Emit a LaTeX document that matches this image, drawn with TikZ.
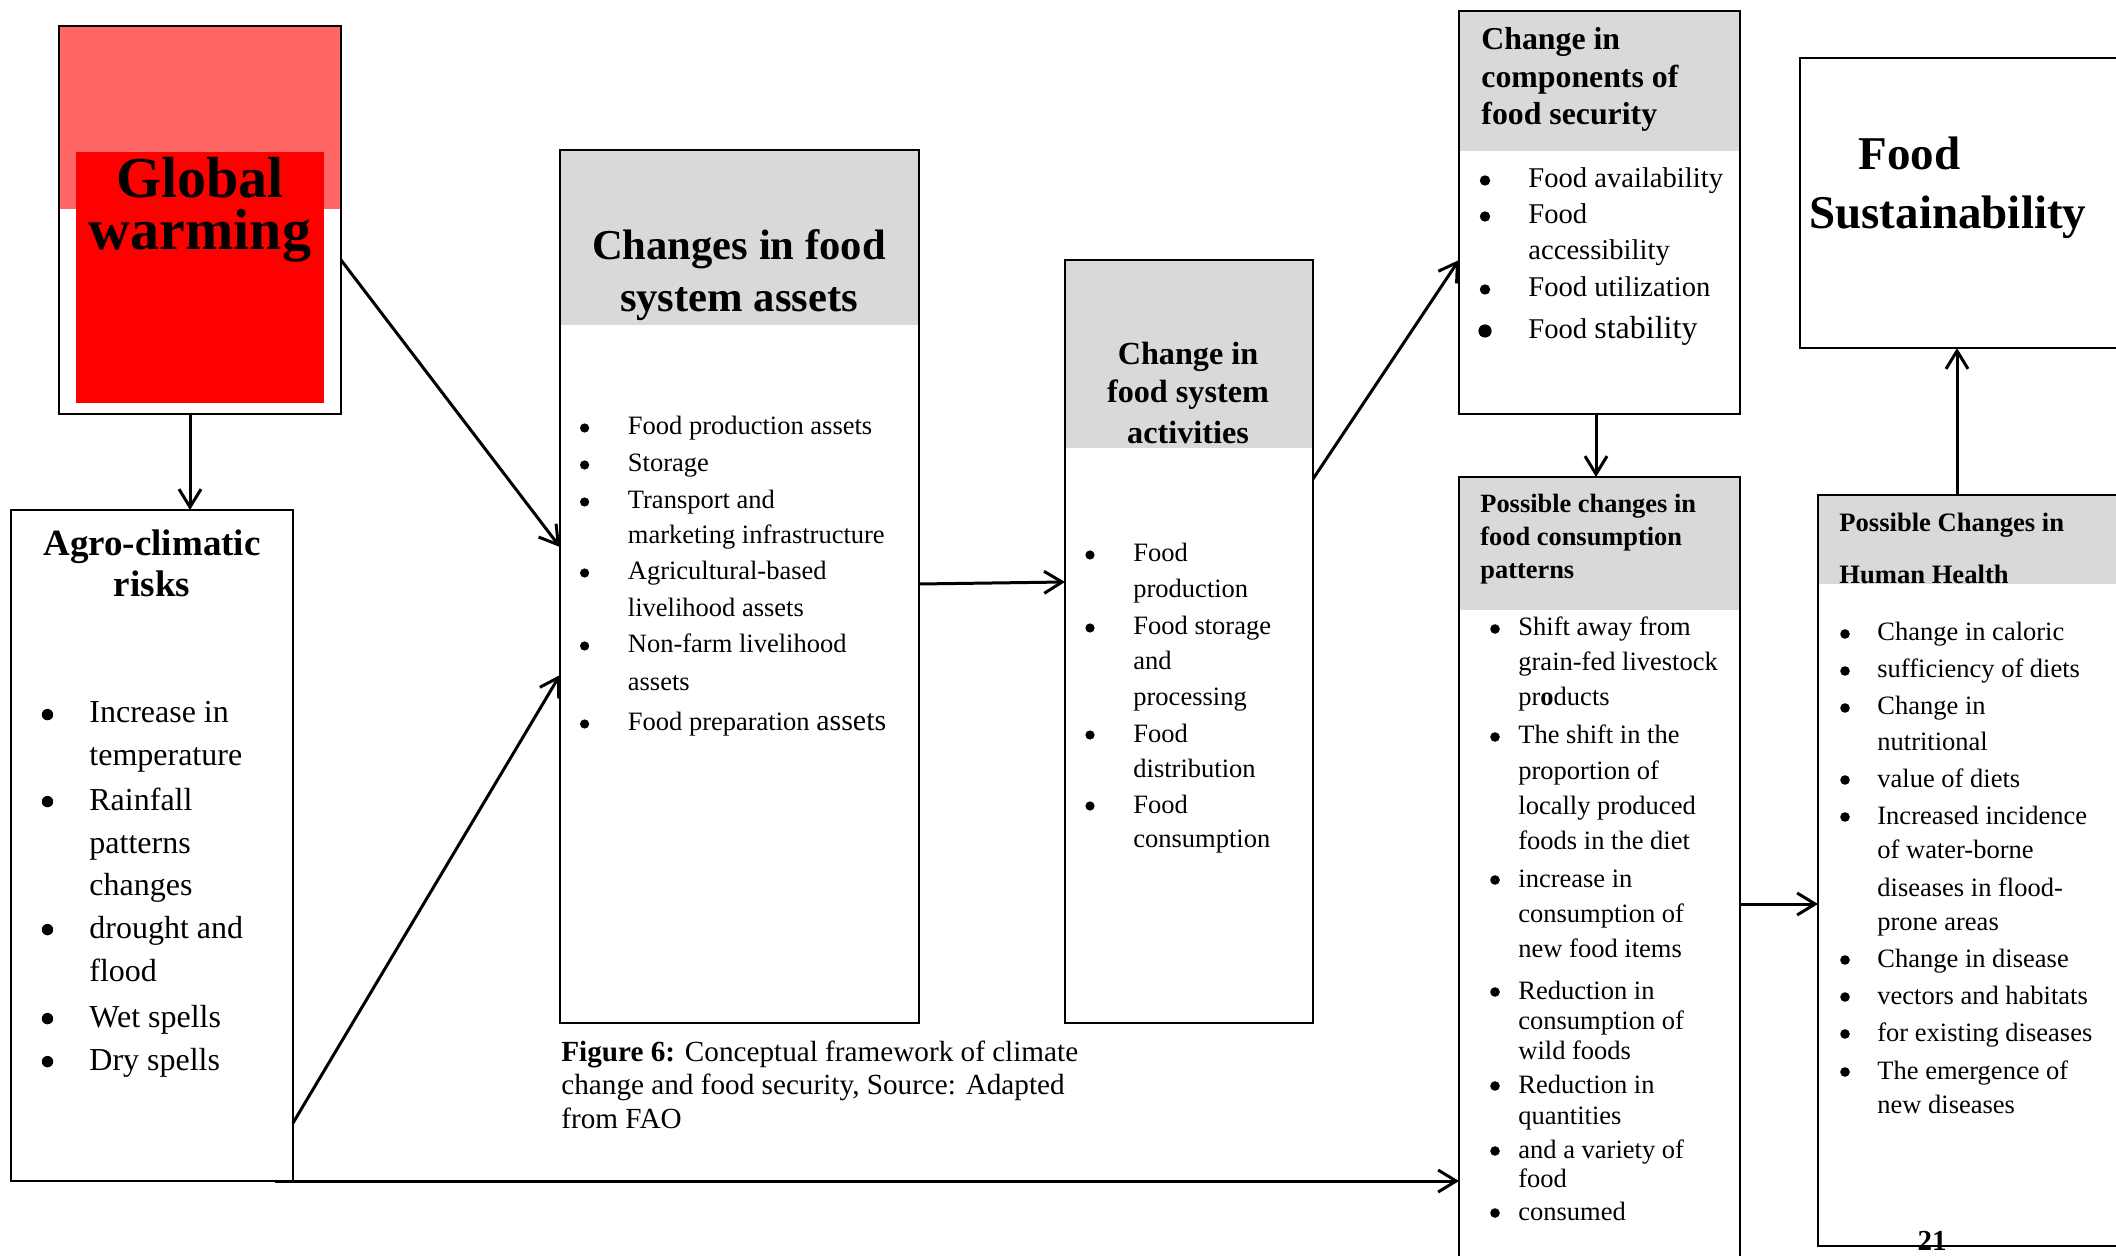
\documentclass[tikz,border=0pt]{standalone}
\usepackage{fontspec}
\setmainfont{Liberation Serif}
\usetikzlibrary{arrows.meta,calc}
\definecolor{lightred}{HTML}{FF6666}
\definecolor{hdrgray}{HTML}{D9D9D9}
\newcommand\myfs[1]{\fontsize{#1}{#1}\selectfont}
\newcommand\mkbox[5]{\node[box, minimum width={(#4-#2)*0.5pt}, minimum height={(#5-#3)*0.5pt}] (#1) at (#2,#3) {};}
\tikzset{
 box/.style={draw=black, line width=1.4pt, inner sep=0pt, outer sep=0pt, anchor=north west},
 arr/.style={line width=1.5pt, -{Straight Barb[length=9pt,width=11pt]}},
 txt/.style={inner sep=0pt, anchor=base west},
 ctxt/.style={inner sep=0pt, anchor=base},
}
\begin{document}
\begin{tikzpicture}[x=0.5pt,y=-0.5pt]
\useasboundingbox (0,0) rectangle (2116,1256);
\clip (0,0) rectangle (2116,1256);
\fill[white] (0,0) rectangle (2116,1256);
% fills
\fill[lightred] (59,26) rectangle (341,209);
\fill[red] (76,152) rectangle (324,403);
\fill[hdrgray] (560,150) rectangle (919,325);
\fill[hdrgray] (1065,260) rectangle (1313,448);
\fill[hdrgray] (1459,11) rectangle (1740,151);
\fill[hdrgray] (1459,477) rectangle (1740,610);
\fill[hdrgray] (1818,495) rectangle (2140,584);
% boxes
\mkbox{gw}{59}{26}{341}{414}
\mkbox{agro}{11}{510}{293}{1181}
\mkbox{assets}{560}{150}{919}{1023}
\mkbox{act}{1065}{260}{1313}{1023}
\mkbox{comp}{1459}{11}{1740}{414}
\mkbox{cons}{1459}{477}{1740}{1290}
\mkbox{health}{1818}{495}{2140}{1246}
\mkbox{sust}{1800}{58}{2140}{348}
% connectors
\draw[arr] ([xshift=-5pt]gw.south) -- ([xshift=-5pt]gw.south |- agro.north);
\draw[arr] ([yshift=-20pt]gw.east) -- ([yshift=19.75pt]assets.west);
\draw[arr] ([yshift=-138.75pt]agro.east) -- ([yshift=-44.25pt]assets.west);
\draw[arr] ([yshift=1.25pt]assets.east) -- ([yshift=29.75pt]act.west);
\draw[arr] ([yshift=81.25pt]act.east) -- ([yshift=-23.75pt]comp.west);
\draw[arr] ([xshift=-1.75pt]comp.south) -- ([xshift=-1.75pt]comp.south |- cons.north);
\coordinate (hin) at ([yshift=-16.75pt]health.west);
\draw[arr] (cons.east |- hin) -- (hin);
\coordinate (hup) at ([xshift=-11pt]health.north);
\draw[arr] (hup) -- (hup |- sust.south);
\coordinate (bstart) at ([xshift=-9pt]agro.south east);
\draw[arr] (bstart) -- (bstart -| cons.west);
% headings
\node[ctxt, font={\myfs{29}\bfseries}] (gw-1) at (200,198) {Global};
\node[ctxt, font={\myfs{29}\bfseries}] (gw-2) at (200,250) {warming};
\node[ctxt, font={\myfs{18.5}\bfseries}] (agro-h1) at (152,556) {Agro-climatic};
\node[ctxt, font={\myfs{18.5}\bfseries}] (agro-h2) at (152,597) {risks};
\node[ctxt, font={\myfs{21.3}\bfseries}] (assets-h1) at (739,260) {Changes in food};
\node[ctxt, font={\myfs{21.3}\bfseries}] (assets-h2) at (739,312) {system assets};
\node[ctxt, font={\myfs{16.1}\bfseries}] (act-h1) at (1188,365) {Change in};
\node[ctxt, font={\myfs{16.1}\bfseries}] (act-h2) at (1188,403) {food system};
\node[ctxt, font={\myfs{16.1}\bfseries}] (act-h3) at (1188,444) {activities};
\node[txt, font={\myfs{15.9}\bfseries}] (comp-h1) at (1481,50) {Change in};
\node[txt, font={\myfs{15.9}\bfseries}] (comp-h2) at (1481,88) {components of};
\node[txt, font={\myfs{15.9}\bfseries}] (comp-h3) at (1481,125) {food security};
\node[txt, font={\myfs{13.2}\bfseries}] (cons-h1) at (1480,513) {Possible changes in};
\node[txt, font={\myfs{13.2}\bfseries}] (cons-h2) at (1480,546) {food consumption};
\node[txt, font={\myfs{13.2}\bfseries}] (cons-h3) at (1480,579) {patterns};
\node[txt, font={\myfs{13.3}\bfseries}] (health-h1) at (1839,532) {Possible Changes in};
\node[txt, font={\myfs{13.3}\bfseries}] (health-h2) at (1839,584) {Human Health};
\node[txt, font={\myfs{23.5}\bfseries}] (sust-1) at (1858,170) {Food};
\node[txt, font={\myfs{23.5}\bfseries}] (sust-2) at (1809,229) {Sustainability};
% bullet lists
\foreach \y/\t/\b [count=\i] in {723/Increase in/1, 766/temperature/0, 810/Rainfall/1, 853/patterns/0, 895/changes/0, 938/drought and/1, 981/flood/0, 1027/Wet spells/1, 1070/Dry spells/1}{
 \node[txt, font=\myfs{16}] (agro-\i) at (89,\y) {\t};
 \ifnum\b=1 \fill (47.5,\y-8.4) circle[radius=2.85pt];\fi
}
\foreach \y/\t/\b [count=\i] in {435/Food production assets/1, 472/Storage/1, 509/Transport and/1, 544/marketing infrastructure/0, 580/Agricultural-based/1, 617/livelihood assets/0, 653/Non-farm livelihood/1, 690/assets/0, 731/Food preparation {\myfs{15}assets}/1}{
 \node[txt, font=\myfs{13.25}] (assets-\i) at (627.5,\y) {\t};
 \ifnum\b=1 \fill (584.6,\y-7) circle[radius=2.3pt];\fi
}
\foreach \y/\t/\b [count=\i] in {562/Food/1, 598/production/0, 635/Food storage/1, 670/and/0, 705/processing/0, 742/Food/1, 777/distribution/0, 813/Food/1, 848/consumption/0}{
 \node[txt, font=\myfs{13.25}] (act-\i) at (1133,\y) {\t};
 \ifnum\b=1 \fill (1090,\y-7) circle[radius=2.3pt];\fi
}
\foreach \y/\t/\b [count=\i] in {188/Food availability/1, 224/Food/1, 260/accessibility/0, 297/Food utilization/1}{
 \node[txt, font=\myfs{14.3}] (comp-\i) at (1528,\y) {\t};
 \ifnum\b=1 \fill (1485,\y-7.5) circle[radius=2.6pt];\fi
}
\node[txt, font=\myfs{14.3}] (comp-5) at (1528,339) {Food {\myfs{16}stability}};
\fill (1485,339-8) circle[radius=3.3pt];
\foreach \y/\t/\b [count=\i] in {636/Shift away from/1, 671/grain-fed livestock/0, 706/pr\textbf{o}ducts/0, 744/The shift in the/1, 779/proportion of/0, 814/locally produced/0, 849/foods in the diet/0, 887/increase in/1, 922/consumption of/0, 957/new food items/0, 999/Reduction in/1, 1029/consumption of/0, 1059/wild foods/0, 1093/Reduction in/1, 1124/quantities/0, 1158/and a variety of/1, 1187/food/0, 1220/consumed/1}{
 \node[txt, font=\myfs{13.25}] (cons-\i) at (1518,\y) {\t};
 \ifnum\b=1 \fill (1495,\y-7) circle[radius=2.4pt];\fi
}
\foreach \y/\t/\b [count=\i] in {641/Change in caloric/1, 678/sufficiency of diets/1, 715/Change in/1, 750/nutritional/0, 787/value of diets/1, 824/Increased incidence/1, 858/of water-borne/0, 896/diseases in flood-/0, 930/prone areas/0, 967/Change in disease/1, 1004/vectors and habitats/1, 1041/for existing diseases/1, 1079/The emergence of/1, 1113/new diseases/0}{
 \node[txt, font=\myfs{13.25}] (health-\i) at (1877,\y) {\t};
 \ifnum\b=1 \fill (1845,\y-7) circle[radius=2.4pt];\fi
}
% caption
\node[txt, font=\myfs{14.6}] (cap-1) at (561,1061) {\textbf{Figure 6:} Conceptual framework of climate};
\node[txt, font=\myfs{14.6}] (cap-2) at (561,1094) {change and food security, Source: Adapted};
\node[txt, font=\myfs{14.6}] (cap-3) at (561,1128) {from FAO};
\node[ctxt, font={\myfs{14.5}\bfseries}] (pnum) at (1932,1250) {21};
\end{tikzpicture}
\end{document}
